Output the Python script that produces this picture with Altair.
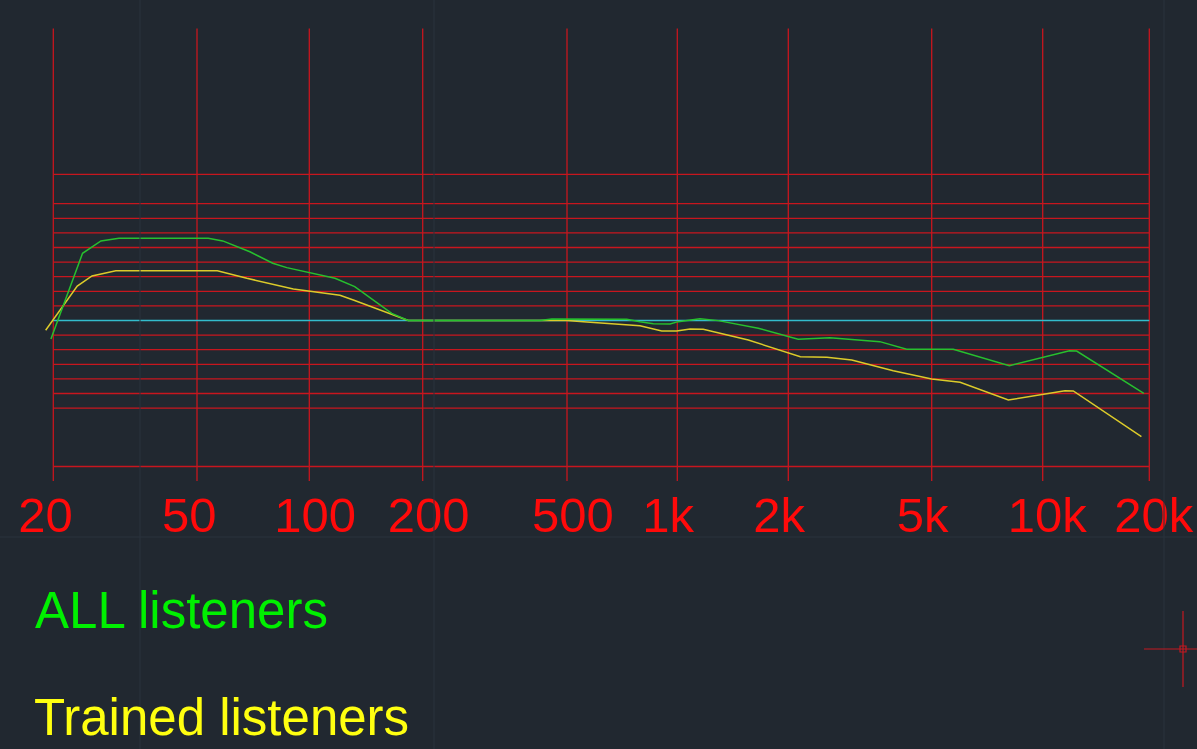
import math
import altair as alt
import pandas as pd

# Averaged preferred response (dB) versus frequency (Hz) for two listener groups
all_freq = [19.7, 24.1, 27.1, 30.4, 53.6, 58.6, 69.3, 79.8, 87, 117, 132, 165.5, 183,
            421, 454, 728, 791, 860, 955, 1006, 1152, 1292, 1658, 2130, 2610, 3590,
            4260, 5720, 8120, 11900, 12470, 19300]
all_db = [-1.27, 4.60, 5.45, 5.63, 5.63, 5.45, 4.71, 3.92, 3.62, 2.89, 2.32, 0.49, 0.0,
          0.0, 0.10, 0.08, -0.08, -0.22, -0.24, -0.08, 0.12, -0.01, -0.53, -1.29, -1.18, -1.45,
          -1.97, -1.97, -3.10, -2.07, -2.09, -4.99]

trained_freq = [19.05, 23.3, 25.6, 29.8, 56.7, 68, 90.6, 120.6, 130.9, 183, 500, 566,
                791, 907, 996, 1083, 1176, 1558, 2160, 2560, 3000, 3910, 5000, 5970,
                8070, 11560, 12200, 19000]
trained_db = [-0.67, 2.36, 3.05, 3.41, 3.41, 2.89, 2.16, 1.73, 1.40, 0.0, 0.0, -0.10,
              -0.36, -0.72, -0.72, -0.58, -0.60, -1.34, -2.48, -2.52, -2.71, -3.44, -4.01, -4.23,
              -5.45, -4.81, -4.83, -7.96]

tick_freqs = [20, 50, 100, 200, 500, 1000, 2000, 5000, 10000, 20000]
tick_labels = ["20", "50", "100", "200", "500", "1k", "2k", "5k", "10k", "20k"]

grid_db = [-10, -6, -5, -4, -3, -2, -1, 1, 2, 3, 4, 5, 6, 7, 8, 10]

series_names = ["ALL listeners", "Trained listeners"]

F_LO, F_HI = 20, 20000      # frequency span of the grid
DB_TOP, DB_BOT = 20, -11    # vertical extent of the frequency lines

W, H = 1197, 749
BG = "#212830"
GRID_RED = "#c8161e"
LABEL_RED = "#ff0a0a"
GREEN_LINE = "#27c02e"
YELLOW_LINE = "#dccb2a"
CYAN = "#33bccc"
FAINT = "#2b323c"
CURSOR = "#c41820"

# Hand-drafted log frequency axis: piecewise-linear in log10(f) between the
# decade/half-decade stations of the drawing frame.
station_px = [53.3, 197, 309.3, 422.7, 567, 677.3, 788.3, 931.7, 1042.7, 1149.3]
x_domain = [1.1534] + [math.log10(f) for f in tick_freqs] + [4.4358]
x_range = [0] + station_px + [W]
x_scale = alt.Scale(type="linear", domain=x_domain, range=x_range, nice=False, zero=False)
y_scale = alt.Scale(domain=[-29.35, 21.95], nice=False, zero=False)

LOG10 = "log(datum.{})/LN10"

all_df = pd.DataFrame({"freq": all_freq, "db": all_db})
trained_df = pd.DataFrame({"freq": trained_freq, "db": trained_db})
ticks_df = pd.DataFrame({"freq": tick_freqs, "label": tick_labels,
                         "top": DB_TOP, "bot": DB_BOT})
grid_df = pd.DataFrame({"db": grid_db, "f0": F_LO, "f1": F_HI})
zero_df = pd.DataFrame({"db": [0], "f0": [F_LO], "f1": [F_HI]})
one = pd.DataFrame({"k": [0]})

X = lambda f: alt.X(f, scale=x_scale, axis=None)
Y = lambda f: alt.Y(f, scale=y_scale, axis=None)


def vrule(px, y0, y1, color, width=1.0):
    return alt.Chart(one).mark_rule(color=color, strokeWidth=width).encode(
        x=alt.value(px), y=alt.value(y0), y2=alt.value(y1)
    )


def hrule(py, x0, x1, color, width=1.0):
    return alt.Chart(one).mark_rule(color=color, strokeWidth=width).encode(
        y=alt.value(py), x=alt.value(x0), x2=alt.value(x1)
    )


# faint background drafting grid
faint = [vrule(140, 0, H, FAINT), vrule(434, 0, H, FAINT), vrule(1164, 0, H, FAINT),
         hrule(537, 0, W, FAINT)]

# horizontal dB grid
h_grid = alt.Chart(grid_df).transform_calculate(
    lf0=LOG10.format("f0"), lf1=LOG10.format("f1")
).mark_rule(color=GRID_RED, strokeWidth=1.3).encode(
    y=Y("db:Q"), x=X("lf0:Q"), x2="lf1:Q"
)

# vertical frequency grid
v_grid = alt.Chart(ticks_df).transform_calculate(
    lf=LOG10.format("freq")
).mark_rule(color=GRID_RED, strokeWidth=1.3).encode(
    x=X("lf:Q"), y=Y("top:Q"), y2="bot:Q"
)

# 0 dB reference
zero_line = alt.Chart(zero_df).transform_calculate(
    lf0=LOG10.format("f0"), lf1=LOG10.format("f1")
).mark_rule(color=CYAN, strokeWidth=1.3).encode(
    y=Y("db:Q"), x=X("lf0:Q"), x2="lf1:Q"
)

trained_line = alt.Chart(trained_df).transform_calculate(
    lf=LOG10.format("freq")
).mark_line(color=YELLOW_LINE, strokeWidth=1.5).encode(
    x=X("lf:Q"), y=Y("db:Q")
)
all_line = alt.Chart(all_df).transform_calculate(
    lf=LOG10.format("freq")
).mark_line(color=GREEN_LINE, strokeWidth=1.5).encode(
    x=X("lf:Q"), y=Y("db:Q")
)

# frequency labels, left-aligned just before each grid line
tick_text = alt.Chart(ticks_df).transform_calculate(
    lf=LOG10.format("freq")
).mark_text(
    align="left", baseline="alphabetic", dx=-35, font="Liberation Sans",
    fontSize=49, color=LABEL_RED,
).encode(x=X("lf:Q"), y=alt.value(532), text="label:N")

legend_all = alt.Chart(pd.DataFrame({"name": [series_names[0]]})).mark_text(
    align="left", baseline="alphabetic", font="Liberation Sans", fontSize=51,
    color="#00f000",
).encode(x=alt.value(35), y=alt.value(628), text="name:N")
legend_trained = alt.Chart(pd.DataFrame({"name": [series_names[1]]})).mark_text(
    align="left", baseline="alphabetic", font="Liberation Sans", fontSize=51,
    color="#ffff10",
).encode(x=alt.value(34), y=alt.value(735), text="name:N")

# cursor crosshair
cursor = [hrule(649, 1144, W, CURSOR, 1.2), vrule(1183, 611, 687, CURSOR, 1.2),
          alt.Chart(one).mark_rect(fillOpacity=0, stroke=CURSOR, strokeWidth=1.2).encode(
              x=alt.value(1180), x2=alt.value(1186), y=alt.value(646), y2=alt.value(652))]

chart = alt.layer(
    h_grid, v_grid, zero_line, trained_line, all_line, tick_text,
    *faint, legend_all, legend_trained, *cursor,
).properties(
    width=W, height=H, padding=0,
    autosize=alt.AutoSizeParams(type="none"),
    background=BG,
).configure_view(strokeWidth=0)

chart.save("out.html", embed_options={"renderer": "svg", "actions": False})
